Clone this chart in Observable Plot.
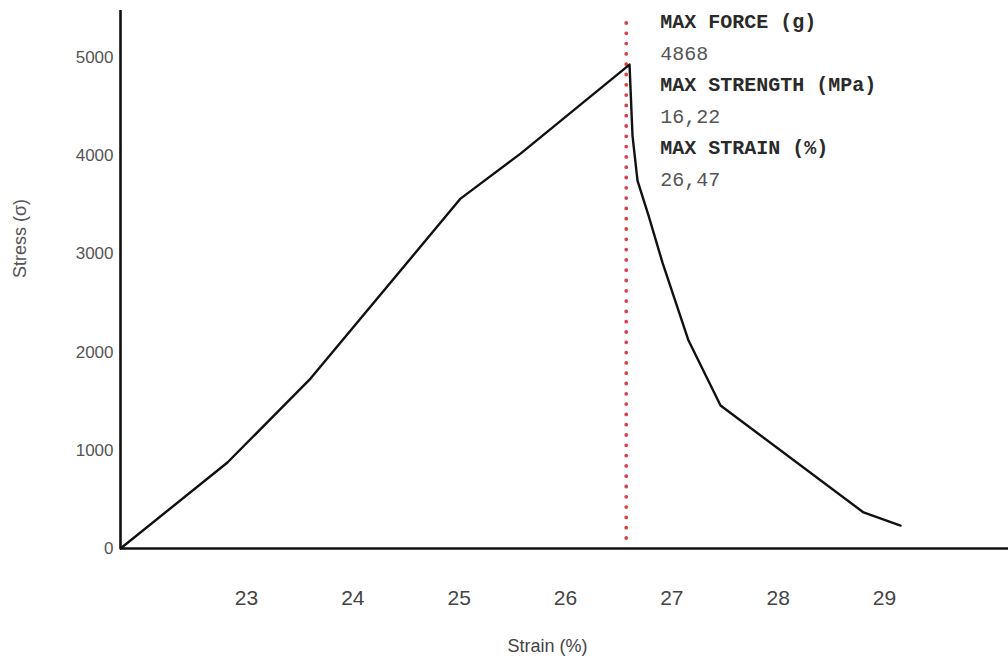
<!DOCTYPE html>
<html>
<head>
<meta charset="utf-8">
<script src="https://cdn.jsdelivr.net/npm/d3@7"></script>
<script src="https://cdn.jsdelivr.net/npm/@observablehq/plot@0.6"></script>
<style>
  html, body { margin: 0; padding: 0; background: #fff; }
  #chart svg { display: block; }
</style>
</head>
<body>
<div id="chart"></div>
<script>
// Stress–strain curve
const strain = [21.815, 22.821, 23.602, 25.013, 25.577, 26.602, 26.630, 26.677, 26.781, 26.912, 27.157, 27.458, 28.803, 29.151];
const stress = [0, 876, 1731, 3564, 4022, 4929, 4206, 3747, 3391, 2912, 2118, 1456, 367, 234];

const xTicks = [23, 24, 25, 26, 27, 28, 29];
const yTicks = [0, 1000, 2000, 3000, 4000, 5000];

const maxLineStrain = 26.571;
const maxLineStress = [102, 5438];

const annoTitles = ["MAX FORCE (g)", "MAX STRENGTH (MPa)", "MAX STRAIN (%)"];
const annoValues = ["4868", "16,22", "26,47"];

const xDomain = [21.815, 30.166];
const yDomain = [0, 5480];

const curve = strain.map((s, i) => ({strain: s, stress: stress[i]}));

const boldText = annoTitles.map(t => t + "\n").join("\n");
const valueText = annoValues.map(v => "\n" + v).join("\n");

const chart = Plot.plot({
  width: 1008,
  height: 666,
  marginLeft: 120,
  marginRight: 0,
  marginTop: 10,
  marginBottom: 118,
  style: {background: "#fff", fontFamily: "Liberation Sans, Arial, sans-serif"},
  x: {domain: xDomain},
  y: {domain: yDomain},
  marks: [
    Plot.axisY(yTicks, {tickSize: 0, tickPadding: 7, fontSize: 17, color: "#555", label: null, tickFormat: d => String(d)}),
    Plot.axisX(xTicks, {tickSize: 0, tickPadding: 41.5, fontSize: 21, color: "#444", label: null, tickFormat: d => String(d)}),
    Plot.ruleX([maxLineStrain], {
      y1: maxLineStress[0], y2: maxLineStress[1],
      stroke: "#d8404c", strokeWidth: 3.8, strokeDasharray: "0,10.3", strokeLinecap: "round"
    }),
    Plot.line(curve, {x: "strain", y: "stress", stroke: "#111", strokeWidth: 2.4, strokeLinejoin: "round"}),
    Plot.ruleX([xDomain[0]], {stroke: "#111", strokeWidth: 2.6}),
    Plot.ruleY([0], {stroke: "#111", strokeWidth: 2.6}),
    Plot.text([boldText], {
      x: maxLineStrain, frameAnchor: "top", textAnchor: "start", lineAnchor: "top",
      dx: 34, dy: -5, fontFamily: "Liberation Mono, Courier New, monospace", fontWeight: "bold",
      fontSize: 20, lineHeight: 1.58, fill: "#2a2a2a"
    }),
    Plot.text([valueText], {
      x: maxLineStrain, frameAnchor: "top", textAnchor: "start", lineAnchor: "top",
      dx: 34, dy: -5, fontFamily: "Liberation Mono, Courier New, monospace",
      fontSize: 20, lineHeight: 1.58, fill: "#555"
    }),
    Plot.text(["Strain (%)"], {frameAnchor: "bottom", dx: -17, dy: 103, fontSize: 18, fill: "#444"}),
    Plot.text(["Stress (σ)"], {frameAnchor: "left", textAnchor: "middle", dx: -100, dy: -41, rotate: -90, fontSize: 18, fill: "#555"})
  ]
});

document.getElementById("chart").appendChild(chart);
</script>
</body>
</html>
